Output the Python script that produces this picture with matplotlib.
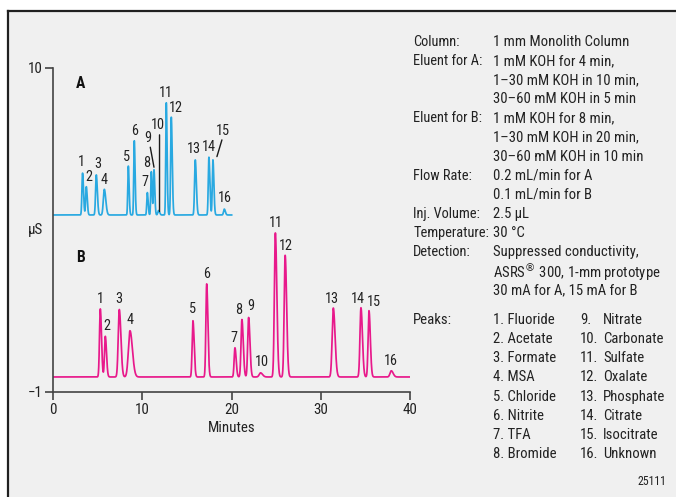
import numpy as np
import matplotlib
matplotlib.use("Agg")
import matplotlib.pyplot as plt
from matplotlib.patches import Rectangle
from matplotlib.lines import Line2D
from matplotlib.transforms import offset_copy
from matplotlib import font_manager as fm
from matplotlib.textpath import TextPath

# ---------------- data ----------------
peak_ids = [str(i) for i in range(1, 17)]
peak_names = ["Fluoride", "Acetate", "Formate", "MSA", "Chloride", "Nitrite",
              "TFA", "Bromide", "Nitrate", "Carbonate", "Sulfate", "Oxalate",
              "Phosphate", "Citrate", "Isocitrate", "Unknown"]

# Chromatogram A (retention time, min; height, µS; peak sigma, min)
time_a = [3.28, 3.70, 4.82, 5.72, 8.41, 9.08, 10.54, 10.99, 11.29, 11.80,
          12.67, 13.23, 15.92, 17.45, 17.90, 19.17]
height_a = [1.42, 0.96, 1.36, 0.87, 1.66, 2.52, 0.76, 1.47, 1.53, 0.15,
            3.81, 3.32, 1.87, 1.96, 1.87, 0.20]
sigma_a = [0.07, 0.07, 0.08, 0.11, 0.06, 0.06, 0.06, 0.06, 0.06, 0.08,
           0.06, 0.07, 0.08, 0.07, 0.07, 0.08]
baseline_a = 5.0
run_a = 20.0

# Chromatogram B
time_b = [5.27, 5.83, 7.40, 8.60, 15.66, 17.20, 20.37, 21.15, 21.90, 23.24,
          24.90, 26.00, 31.40, 34.50, 35.40, 37.90]
height_b = [2.31, 1.38, 2.29, 1.57, 1.91, 3.16, 0.99, 1.95, 2.02, 0.14,
            4.89, 4.13, 2.34, 2.35, 2.25, 0.21]
sigma_b = [0.09, 0.09, 0.12, 0.18, 0.09, 0.09, 0.09, 0.10, 0.10, 0.15,
           0.11, 0.11, 0.13, 0.11, 0.10, 0.14]
baseline_b = -0.5
run_b = 40.0

x_ticks = [0, 10, 20, 30, 40]
y_ticks = [-1, 10]
y_tick_labels = ["\u22121", "10"]

cond_labels = ["Column:", "Eluent for A:", "", "", "Eluent for B:", "", "",
               "Flow Rate:", "", "Inj. Volume:", "Temperature:", "Detection:", "", ""]
cond_values = ["1 mm Monolith Column", "1 mM KOH for 4 min,",
               "1\u201330 mM KOH in 10 min,", "30\u201360 mM KOH in 5 min",
               "1 mM KOH for 8 min,", "1\u201330 mM KOH in 20 min,",
               "30\u201360 mM KOH in 10 min", "0.2 mL/min for A", "0.1 mL/min for B",
               "2.5 \u00b5L", "30 \u00b0C", "Suppressed conductivity,",
               r"ASRS$^{\circledR}$ 300, 1-mm prototype", "30 mA for A, 15 mA for B"]

# ---------------- font choice ----------------
_names = {f.name for f in fm.fontManager.ttflist}
FAM, STRETCH = None, 'normal'
for cand in ['Liberation Sans Narrow', 'Arial Narrow', 'Roboto Condensed',
             'Open Sans Condensed', 'Noto Sans Condensed', 'Inter Condensed']:
    if cand in _names:
        FAM = cand
        break
if FAM is None:
    if any(f.name == 'DejaVu Sans' and f.stretch == 'condensed' for f in fm.fontManager.ttflist):
        FAM, STRETCH = 'DejaVu Sans', 'condensed'
    elif 'Roboto' in _names:
        FAM = 'Roboto'
    else:
        FAM = 'DejaVu Sans'
plt.rcParams['font.family'] = [FAM, 'DejaVu Sans']
plt.rcParams['font.stretch'] = STRETCH
plt.rcParams['mathtext.fontset'] = 'dejavusans'

_fp = fm.FontProperties(family=[FAM, 'DejaVu Sans'], stretch=STRETCH, size=11)
_w_px = TextPath((0, 0), "1 mm Monolith Column", prop=_fp).get_extents().width * 100 / 72
K = min(1.0, 134.0 / _w_px) if _w_px > 0 else 1.0
_wd_px = TextPath((0, 0), "40", prop=_fp).get_extents().width * 100 / 72
KD = min(1.0, 13.5 / _wd_px) if _wd_px > 0 else 1.0

# ---------------- style / layout ----------------
W, H = 676, 497
TXT = '#222222'
AXC = '#444444'
BLUE = '#29a9e1'
PINK = '#e8198b'
BG = '#f0f0f0'
PX = 0.72  # points per pixel
FS_TXT = 11 * K
FS_TICK = 11 * KD
FS_PEAK = 10.5 * KD

lab_off_a = [(-1, 11.6), (3, 10), (1.3, 10.7), (0, 9.3), (-1.3, 9.3), (0.7, 9.7),
             (-2, 10.7), (-4.7, 8.4), (-6.4, 31.7), (-0.6, 85.7), (-0.7, 10),
             (4.7, 9.6), (-1.3, 10.7), (0.3, 10), (10, 29), (0.7, 10.7)]
lab_off_b = [(0, 10.3), (1.4, 10), (-0.6, 10.7), (0.3, 10.7), (-0.3, 11.7), (0, 10),
             (-0.7, 9.7), (-3, 10), (1.7, 11), (1, 10.6), (0.3, 10), (1, 9.7),
             (-1, 9.3), (-3, 9), (5.3, 8.7), (0, 10)]
leaders_a = [(8, -3.7, 22.7, 0, 2.7), (9, 1, 75.7, 1, -1), (14, 9, 20, 4, 3.3)]


def trace(t, times, heights, sigmas, base):
    y = np.full_like(t, base)
    for tc, h, s in zip(times, heights, sigmas):
        d = t - tc
        sig = np.where(d < 0, s, s * 1.5)
        y += h * np.exp(-0.5 * (d / sig) ** 2)
    return y


fig = plt.figure(figsize=(W / 100, H / 100), dpi=100)
fig.patch.set_facecolor('white')

fig.add_artist(Rectangle((8 / W, 0), 1, 1 - 11 / H, transform=fig.transFigure,
                         facecolor=BG, edgecolor='none', zorder=-10))
fig.add_artist(Line2D([8 / W, 8 / W], [0, 1 - 11 / H], transform=fig.transFigure,
                      color='#202020', lw=1.6, zorder=-9))
fig.add_artist(Line2D([8 / W, 1], [1 - 11 / H, 1 - 11 / H], transform=fig.transFigure,
                      color='#202020', lw=1.6, zorder=-9))

ax_left, ax_right = 53.3, 410.0
ax_top, ax_bot = 67.7, 391.7
ax = fig.add_axes([ax_left / W, 1 - ax_bot / H, (ax_right - ax_left) / W,
                   (ax_bot - ax_top) / H])
ax.set_facecolor('none')
ax.set_zorder(5)

ta = np.linspace(0, run_a, 6000)
tb = np.linspace(0, run_b, 10000)
ax.plot(ta, trace(ta, time_a, height_a, sigma_a, baseline_a), color=BLUE, lw=1.25)
ax.plot(tb, trace(tb, time_b, height_b, sigma_b, baseline_b), color=PINK, lw=1.25)

ax.set_xlim(0, 40)
ax.set_ylim(-1, 10)
ax.set_xticks(x_ticks)
ax.set_yticks(y_ticks)
ax.set_yticklabels(y_tick_labels)
for s in ['top', 'right']:
    ax.spines[s].set_visible(False)
for s in ['left', 'bottom']:
    ax.spines[s].set_color(AXC)
    ax.spines[s].set_linewidth(1.2)
ax.tick_params(axis='both', direction='out', length=6, width=1.2, color=AXC,
               labelcolor=TXT, labelsize=FS_TICK)
ax.tick_params(axis='y', pad=1.5)
ax.tick_params(axis='x', pad=2)

ax.set_ylabel("\u00b5S", rotation=0, ha='right', va='center', fontsize=FS_TICK, color=TXT)
ax.yaxis.set_label_coords((42.7 - ax_left) / (ax_right - ax_left), 0.5)
ax.set_xlabel("Minutes", fontsize=FS_TICK, color=TXT, va='center')
ax.xaxis.set_label_coords(0.5, -(428 - ax_bot) / (ax_bot - ax_top))

ax.text(3.1, 9.47, "A", fontsize=11.5 * KD, fontweight='bold', color='#111111',
        ha='center', va='center')
ax.text(3.1, 3.56, "B", fontsize=11.5 * KD, fontweight='bold', color='#111111',
        ha='center', va='center')

for i, lab in enumerate(peak_ids):
    dx, dy = lab_off_a[i]
    ax.annotate(lab, (time_a[i], baseline_a + height_a[i]), xytext=(dx * PX, dy * PX),
                textcoords='offset points', ha='center', va='center',
                fontsize=FS_PEAK, color=TXT)
    dx, dy = lab_off_b[i]
    ax.annotate(lab, (time_b[i], baseline_b + height_b[i]), xytext=(dx * PX, dy * PX),
                textcoords='offset points', ha='center', va='center',
                fontsize=FS_PEAK, color=TXT)

for idx, x0, y0, x1, y1 in leaders_a:
    tr = offset_copy(ax.transData, fig=fig, x=x1 * PX, y=y1 * PX, units='points')
    ax.annotate('', xy=(time_a[idx], baseline_a + height_a[idx]), xycoords=tr,
                xytext=((x0 - x1) * PX, (y0 - y1) * PX), textcoords='offset points',
                arrowprops=dict(arrowstyle='-', color='#1a1a1a', lw=1.0,
                                shrinkA=0, shrinkB=0))

row0, dy_row = 41.7, 19.15
for i, (l, v) in enumerate(zip(cond_labels, cond_values)):
    y = 1 - (row0 + i * dy_row) / H
    if l:
        fig.text(413.3 / W, y, l, fontsize=FS_TXT * 0.97, color=TXT, ha='left', va='center')
    fig.text(492.7 / W, y, v, fontsize=FS_TXT, color=TXT, ha='left', va='center')

prow0 = 320
fig.text(413.3 / W, 1 - prow0 / H, "Peaks:", fontsize=FS_TXT, color=TXT,
         ha='left', va='center')
for i in range(8):
    y = 1 - (prow0 + i * dy_row) / H
    fig.text(492.7 / W, y, f"{peak_ids[i]}. {peak_names[i]}", fontsize=FS_TXT,
             color=TXT, ha='left', va='center')
    fig.text(580 / W, y, f"{peak_ids[i + 8]}.", fontsize=FS_TXT, color=TXT,
             ha='left', va='center')
    fig.text(603.3 / W, y, peak_names[i + 8], fontsize=FS_TXT, color=TXT,
             ha='left', va='center')

fig.text(666 / W, 1 - 481.5 / H, "25111", fontsize=8.6, color=TXT,
         ha='right', va='center')

fig.savefig("out.png", dpi=100)
